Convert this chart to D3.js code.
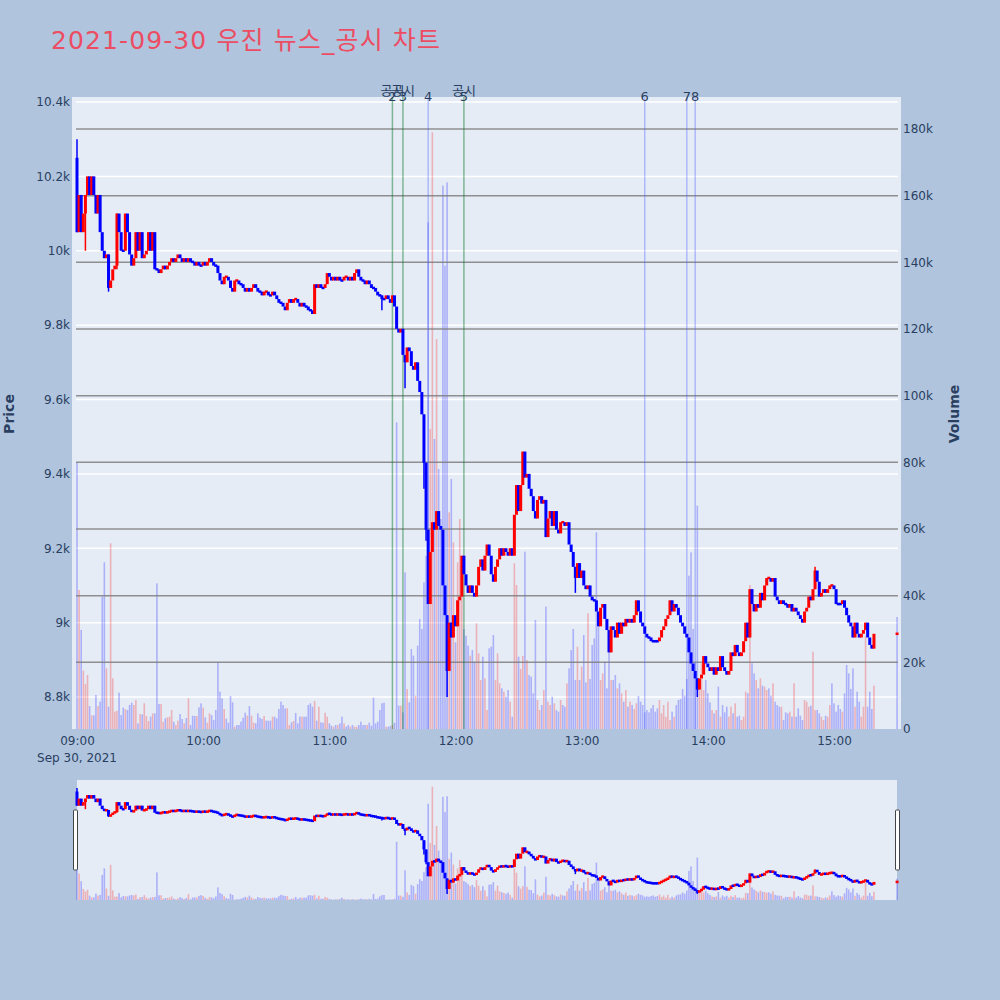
<!DOCTYPE html>
<html>
<head>
<meta charset="utf-8">
<script src="https://cdn.jsdelivr.net/npm/d3@7"></script>
<style>
  body { margin: 0; background: #b0c4de; }
  text { font-family: "DejaVu Sans", "Noto Sans CJK KR", sans-serif; }
</style>
</head>
<body>
<svg id="canvas"></svg>
<script>
// ---- data (1-minute candles, 09:00 .. 15:19, plus 15:30 close) ----
let day = '2021-09-30 ';
let openPrice = 10250;

let close0900 = [
  10050, 10150, 10050, 10100, 10150, 10200, 10150, 10200, 10150, 10100,
  10150, 10050, 10000, 9980, 9990, 9900, 9920, 9950, 9960, 10100,
  10050, 10000, 10000, 10100, 10050, 9990, 9960, 9980, 10050, 10000,
  10050, 9980, 9990, 10000, 10050, 10000, 10050, 9950, 9950, 9940,
  9950, 9960, 9950, 9960, 9970, 9980, 9970, 9980, 9990, 9980,
  9970, 9980, 9970, 9980, 9970, 9970, 9960, 9970, 9960, 9960
]
let close1000 = [
  9970, 9960, 9970, 9980, 9970, 9960, 9960, 9940, 9920, 9910,
  9930, 9930, 9920, 9900, 9890, 9920, 9920, 9910, 9910, 9900,
  9890, 9900, 9890, 9900, 9910, 9900, 9890, 9890, 9880, 9890,
  9890, 9880, 9880, 9890, 9880, 9870, 9860, 9860, 9850, 9840,
  9860, 9870, 9860, 9870, 9870, 9860, 9850, 9860, 9850, 9850,
  9840, 9840, 9830, 9910, 9900, 9910, 9900, 9900, 9910, 9940
]
let close1100 = [
  9930, 9920, 9930, 9920, 9930, 9920, 9920, 9930, 9930, 9920,
  9930, 9920, 9940, 9950, 9930, 9920, 9920, 9910, 9920, 9910,
  9900, 9900, 9890, 9880, 9880, 9870, 9870, 9880, 9870, 9860,
  9880, 9850, 9790, 9780, 9790, 9720, 9700, 9740, 9730, 9690,
  9680, 9700, 9650, 9620, 9560, 9430, 9250, 9050, 9190, 9270,
  9250, 9300, 9260, 9250, 9100, 9020, 8870, 9000, 8960, 9020
]
let close1200 = [
  8990, 9060, 9070, 9180, 9130, 9100, 9080, 9100, 9080, 9070,
  9100, 9150, 9170, 9140, 9180, 9210, 9180, 9130, 9110, 9150,
  9170, 9200, 9180, 9200, 9190, 9180, 9200, 9180, 9290, 9370,
  9300, 9370, 9460, 9390, 9400, 9360, 9340, 9300, 9280, 9330,
  9340, 9320, 9330, 9230, 9280, 9300, 9260, 9300, 9250, 9240,
  9270, 9270, 9260, 9270, 9210, 9190, 9150, 9120, 9160, 9120
]
let close1300 = [
  9140, 9100, 9090, 9100, 9070, 9060, 9060, 9030, 8990, 9040,
  9050, 9010, 8980, 8920, 8990, 8980, 8960, 9000, 8970, 9000,
  8990, 9010, 9000, 9010, 9000, 9020, 9060, 9030, 9000, 8990,
  8970, 8960, 8960, 8950, 8950, 8950, 8950, 8960, 8980, 8990,
  9010, 9020, 9060, 9030, 9050, 9040, 9020, 9000, 8990, 8970,
  8960, 8920, 8890, 8870, 8850, 8820, 8850, 8860, 8910, 8890
]
let close1400 = [
  8880, 8870, 8880, 8860, 8880, 8870, 8910, 8880, 8870, 8860,
  8870, 8920, 8910, 8940, 8920, 8910, 8920, 8950, 9000, 8960,
  9090, 9050, 9030, 9050, 9040, 9080, 9060, 9100, 9120, 9120,
  9110, 9120, 9070, 9060, 9050, 9060, 9050, 9050, 9040, 9050,
  9030, 9040, 9030, 9020, 9010, 9000, 9030, 9040, 9070, 9060,
  9090, 9140, 9110, 9070, 9080, 9090, 9080, 9090, 9100, 9100
]
let close1500 = [
  9090, 9050, 9050, 9050, 9060, 9040, 9020, 9000, 8990, 8960,
  9000, 8970, 8960, 8970, 8980, 9000, 8960, 8940, 8930, 8970
]

let vol0900 = [
  80000, 41700, 29700, 17500, 13500, 16200, 6900, 4100, 4100, 10200,
  6900, 8200, 39700, 50000, 18200, 6700, 55700, 15200, 5200, 5500,
  10900, 4200, 6400, 5900, 5700, 7200, 7900, 7200, 8700, 1700,
  4500, 4400, 7700, 3900, 2400, 3700, 4700, 4700, 43700, 7500,
  7500, 2200, 3200, 3500, 3700, 5700, 2200, 1200, 2500, 4500,
  3000, 1700, 3300, 9200, 1200, 4000, 3900, 3900, 6500, 7700
]
let vol1000 = [
  6400, 3500, 1900, 4700, 4200, 2700, 5700, 20000, 11200, 9200,
  6000, 3100, 1900, 9900, 8000, 700, 1200, 1200, 2200, 3400,
  4900, 4000, 6900, 4000, 1900, 1700, 4700, 3400, 3000, 3900,
  2500, 2500, 2500, 3700, 3700, 3200, 6000, 8200, 7200, 6200,
  6200, 1200, 2000, 2400, 4800, 1700, 3700, 3700, 3700, 3700,
  7200, 7700, 6700, 8400, 2500, 6700, 2000, 1900, 4900, 3700
]
let vol1100 = [
  1700, 1000, 700, 1200, 1200, 1700, 3700, 1700, 700, 1200,
  700, 1200, 700, 700, 1200, 2200, 1200, 1200, 1200, 1900,
  1000, 9400, 1700, 2200, 5700, 7700, 7900, 700, 700, 900,
  1200, 1900, 92000, 7000, 7000, 5000, 47000, 12000, 8000, 24000,
  22000, 10000, 25000, 33000, 30000, 44000, 52000, 152000, 90000, 179000,
  87000, 117000, 78000, 63000, 163000, 139000, 164000, 65000, 75000, 56000
]
let vol1200 = [
  26000, 50000, 63000, 40000, 30000, 28000, 25000, 22000, 23700, 20200,
  31700, 22700, 14700, 21700, 15200, 5700, 24200, 24700, 28200, 14700,
  22700, 13700, 12200, 11200, 9700, 11700, 8200, 3700, 49700, 43200,
  21700, 18000, 21900, 53200, 20700, 16200, 15700, 10700, 32700, 8700,
  5700, 7200, 11700, 36700, 8200, 7200, 9700, 7700, 5700, 5200,
  8700, 7200, 6700, 13700, 18200, 23700, 30000, 14700, 24700, 14700
]
let vol1300 = [
  18700, 28200, 14000, 34700, 15000, 25200, 27200, 59000, 30700, 14700,
  16700, 20200, 12200, 24200, 14700, 14700, 16200, 12200, 13700, 10700,
  8200, 11700, 6700, 8200, 7200, 6000, 7700, 9900, 8200, 7200,
  5000, 5700, 5000, 6200, 7200, 5200, 6200, 8700, 4700, 7200,
  3700, 8200, 2700, 5200, 3700, 7200, 8700, 9000, 12000, 10000,
  15000, 46000, 53000, 30000, 20000, 67000, 13700, 19700, 11700, 14700
]
let vol1400 = [
  10700, 8000, 5700, 4700, 5700, 12700, 3700, 7200, 5000, 6700,
  3700, 6700, 4700, 7700, 3700, 4000, 2700, 3700, 11200, 10700,
  43200, 19700, 16700, 14700, 12200, 15200, 13000, 12700, 11700, 12200,
  10000, 13700, 8200, 7200, 6700, 6700, 2700, 5000, 4700, 5200,
  3700, 13700, 3700, 6200, 4000, 2700, 8700, 8200, 6700, 7000,
  23200, 5700, 5700, 4700, 3700, 2700, 4000, 3700, 7200, 13700
]
let vol1500 = [
  7700, 5200, 7200, 6000, 5200, 10700, 19200, 16700, 12000, 18200,
  6700, 11200, 8200, 3700, 6700, 28000, 6700, 11200, 6000, 13000
]

// closing auction at 15:30
let closeAuctionTime = '15:30';
let closeAuctionPrice = 8970;
let closeAuctionVolume = 33600;

// longer wicks: [minute index, high, low]
let wicks = [
  [0, 10300, 10050], [4, 10150, 10000], [15, 9990, 9890], [19, 10100, 9950],
  [145, 9880, 9840], [156, 9720, 9630], [165, 9560, 9360], [166, 9430, 9220],
  [176, 9020, 8800], [237, 9150, 9080], [295, 8850, 8800], [351, 9150, 9090]
]

// news / disclosure markers
let newsTimes = ['11:30', '11:35', '11:47', '12:04', '13:30', '13:50', '13:54'];
let newsNumbers = ['2', '3', '4', '5', '6', '7', '8'];
let newsKinds = ['공시', '공시', '뉴스', '공시', '뉴스', '뉴스', '뉴스'];

let priceTicks = [8800, 9000, 9200, 9400, 9600, 9800, 10000, 10200, 10400];
let volumeTicks = [0, 20000, 40000, 60000, 80000, 100000, 120000, 140000, 160000, 180000];
let timeTicks = ['09:00', '10:00', '11:00', '12:00', '13:00', '14:00', '15:00'];

let chartTitle = '2021-09-30 우진 뉴스_공시 차트';

// ---- build candles ----
let parseTime = d3.timeParse('%Y-%m-%d %H:%M');
let t0900 = parseTime(day + '09:00');

let closes = [].concat(close0900, close1000, close1100, close1200, close1300, close1400, close1500);
let volumes = [].concat(vol0900, vol1000, vol1100, vol1200, vol1300, vol1400, vol1500);

let candles = closes.map((c, i) => {
  let o = i === 0 ? openPrice : closes[i - 1];
  return {
    time: d3.timeMinute.offset(t0900, i),
    open: o, close: c,
    high: Math.max(o, c), low: Math.min(o, c),
    volume: volumes[i]
  }
})
wicks.forEach(([m, h, l]) => {
  candles[m].high = Math.max(candles[m].high, h)
  candles[m].low = Math.min(candles[m].low, l)
})
candles.push({
  time: parseTime(day + closeAuctionTime),
  open: closeAuctionPrice, close: closeAuctionPrice,
  high: closeAuctionPrice, low: closeAuctionPrice,
  volume: closeAuctionVolume
})

// direction: flat candles keep the previous direction
let prevUp = false;
candles.forEach((d) => {
  if (d.close > d.open) prevUp = true
  else if (d.close < d.open) prevUp = false
  d.up = prevUp
  d.volUp = d.close > d.open
})

// ---- layout ----
let width = 1000;
let height = 1000;
let plotLeft = 72, plotRight = 901, plotTop = 97, plotBottom = 729;
let gridLeft = 76, gridRight = 898;
let sliderTop = 780, sliderBottom = 900, sliderLeft = 77, sliderRight = 897;

let upColor = '#ff0000';
let downColor = '#0000ff';
let textColor = '#2a3f5f';

let xScale = d3.scaleTime()
  .domain([t0900, parseTime(day + '15:00')])
  .range([77, 834]);

let yPrice = d3.scaleLinear().domain([8800, 10400]).range([697, 102]);
let yVolume = d3.scaleLinear().domain([0, 180000]).range([plotBottom, 129]);

let yPriceMini = d3.scaleLinear()
  .domain([yPrice.invert(plotBottom), yPrice.invert(plotTop)])
  .range([sliderBottom, sliderTop]);
let yVolumeMini = d3.scaleLinear()
  .domain([0, yVolume.invert(plotTop)])
  .range([sliderBottom, sliderTop]);

let svg = d3.select('#canvas').attr('width', width).attr('height', height);

svg.append('rect')
  .attr('width', width).attr('height', height)
  .attr('fill', '#b0c4de');

svg.append('text')
  .text(chartTitle)
  .attr('x', 51).attr('y', 49)
  .attr('font-size', 25)
  .attr('textLength', 389)
  .attr('lengthAdjust', 'spacing')
  .attr('fill', '#ec4d63');

// plot background
svg.append('rect')
  .attr('x', plotLeft).attr('y', plotTop)
  .attr('width', plotRight - plotLeft).attr('height', plotBottom - plotTop)
  .attr('fill', '#e5ecf6');

// price grid (white)
svg.append('g').selectAll('line')
  .data(priceTicks)
  .enter().append('line')
  .attr('x1', gridLeft).attr('x2', gridRight)
  .attr('y1', d => yPrice(d)).attr('y2', d => yPrice(d))
  .attr('stroke', '#ffffff').attr('stroke-width', 1.5);

let drawVolumes = (g, yV) => {
  g.selectAll('rect')
    .data(candles)
    .enter().append('rect')
    .attr('x', d => xScale(d.time) - 0.8)
    .attr('width', 1.6)
    .attr('y', d => yV(d.volume))
    .attr('height', d => yV(0) - yV(d.volume))
    .attr('fill', d => d.volUp ? 'rgba(255,0,0,0.25)' : 'rgba(0,0,255,0.25)');
}

let drawCandles = (g, yP, bodyW, minH) => {
  g.selectAll('line')
    .data(candles.filter(d => d.high > Math.max(d.open, d.close) || d.low < Math.min(d.open, d.close)))
    .enter().append('line')
    .attr('x1', d => xScale(d.time)).attr('x2', d => xScale(d.time))
    .attr('y1', d => yP(d.high)).attr('y2', d => yP(d.low))
    .attr('stroke', d => d.up ? upColor : downColor)
    .attr('stroke-width', 1.5);

  g.selectAll('rect')
    .data(candles)
    .enter().append('rect')
    .attr('x', d => xScale(d.time) - bodyW / 2)
    .attr('width', bodyW)
    .attr('y', d => {
      let top = yP(Math.max(d.open, d.close))
      let h = yP(Math.min(d.open, d.close)) - top
      return h < minH ? top - (minH - h) / 2 : top
    })
    .attr('height', d => Math.max(minH, yP(Math.min(d.open, d.close)) - yP(Math.max(d.open, d.close))))
    .attr('fill', d => d.up ? upColor : downColor);
}

drawVolumes(svg.append('g'), yVolume);

// volume grid (grey)
svg.append('g').selectAll('line')
  .data(volumeTicks.filter(d => d > 0))
  .enter().append('line')
  .attr('x1', gridLeft).attr('x2', gridRight)
  .attr('y1', d => yVolume(d)).attr('y2', d => yVolume(d))
  .attr('stroke', '#7f7f7f').attr('stroke-opacity', 0.85).attr('stroke-width', 1.5);

// marker lines
let markers = newsTimes.map((t, i) => {
  return { time: parseTime(day + t), num: newsNumbers[i], kind: newsKinds[i] }
})

svg.append('g').selectAll('line')
  .data(markers)
  .enter().append('line')
  .attr('x1', d => xScale(d.time)).attr('x2', d => xScale(d.time))
  .attr('y1', plotTop).attr('y2', plotBottom)
  .attr('stroke', d => d.kind === '공시' ? 'rgba(0,115,30,0.45)' : 'rgba(70,90,255,0.35)')
  .attr('stroke-width', 1.5);

drawCandles(svg.append('g'), yPrice, 3, 2.5);

let labels = svg.append('g');
labels.selectAll('text.num')
  .data(markers)
  .enter().append('text')
  .attr('class', 'num')
  .text(d => d.num)
  .attr('x', d => xScale(d.time)).attr('y', 101)
  .attr('text-anchor', 'middle')
  .attr('font-size', 13)
  .attr('fill', textColor);

labels.selectAll('text.kind')
  .data(markers.filter(d => d.kind === '공시'))
  .enter().append('text')
  .attr('class', 'kind')
  .text(d => d.kind)
  .attr('x', d => xScale(d.time)).attr('y', 95)
  .attr('text-anchor', 'middle')
  .attr('font-size', 13)
  .attr('font-family', '"Noto Sans CJK KR", sans-serif')
  .attr('fill', textColor);

// ---- axes ----
let yAxis = d3.axisLeft(yPrice)
  .tickValues(priceTicks)
  .tickFormat(d3.format('~s'))
  .tickSize(0).tickPadding(0);

let yAxisRight = d3.axisRight(yVolume)
  .tickValues(volumeTicks)
  .tickFormat(d3.format('~s'))
  .tickSize(0).tickPadding(0);

let xAxis = d3.axisBottom(xScale)
  .tickValues(timeTicks.map(t => parseTime(day + t)))
  .tickFormat(d3.timeFormat('%H:%M'))
  .tickSize(0).tickPadding(0);

let styleAxis = (g) => {
  g.select('.domain').remove()
  g.selectAll('text')
    .attr('font-size', 12)
    .attr('fill', textColor)
    .attr('font-family', '"DejaVu Sans", sans-serif')
}

svg.append('g')
  .attr('transform', 'translate(70, 0)')
  .call(yAxis)
  .call(styleAxis);

svg.append('g')
  .attr('transform', 'translate(903, 0)')
  .call(yAxisRight)
  .call(styleAxis);

svg.append('g')
  .attr('transform', 'translate(0, 736)')
  .call(xAxis)
  .call(styleAxis);

svg.append('text')
  .text(d3.timeFormat('%b %-d, %Y')(t0900))
  .attr('x', xScale(t0900)).attr('y', 762)
  .attr('text-anchor', 'middle')
  .attr('font-size', 12)
  .attr('fill', textColor);

svg.append('text')
  .text('Price')
  .attr('transform', 'translate(14, 414) rotate(-90)')
  .attr('text-anchor', 'middle')
  .attr('font-size', 14).attr('font-weight', 'bold')
  .attr('fill', textColor);

svg.append('text')
  .text('Volume')
  .attr('transform', 'translate(959, 414) rotate(-90)')
  .attr('text-anchor', 'middle')
  .attr('font-size', 14).attr('font-weight', 'bold')
  .attr('fill', textColor);

// ---- range slider ----
svg.append('rect')
  .attr('x', sliderLeft).attr('y', sliderTop)
  .attr('width', sliderRight - sliderLeft).attr('height', sliderBottom - sliderTop)
  .attr('fill', '#e5ecf6');

let mini = svg.append('g');
drawVolumes(mini.append('g'), yVolumeMini);
drawCandles(mini.append('g'), yPriceMini, 3, 2.5);

[sliderLeft - 3.5, sliderRight - 1.5].forEach((hx) => {
  svg.append('rect')
    .attr('x', hx).attr('y', 810)
    .attr('width', 4).attr('height', 60)
    .attr('rx', 1)
    .attr('fill', '#ffffff')
    .attr('stroke', '#444444').attr('stroke-width', 1);
})
</script>
</body>
</html>
